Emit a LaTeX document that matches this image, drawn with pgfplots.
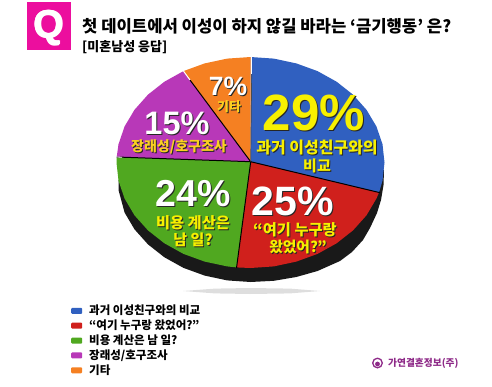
\documentclass[border=0pt]{standalone}
\usepackage{pgfplots}
\pgfplotsset{compat=1.18}
\usepackage{fontspec}
\setmainfont{Noto Sans CJK KR}
\newfontfamily\lat{Liberation Sans}
\definecolor{cblue}{HTML}{3060C0}
\definecolor{cred}{HTML}{D0201C}
\definecolor{cgreen}{HTML}{50A820}
\definecolor{cpurple}{HTML}{B838B8}
\definecolor{corange}{HTML}{F58022}
\definecolor{cpink}{HTML}{EC0E9E}
\definecolor{clogo}{HTML}{8E2A88}
\definecolor{cyel}{HTML}{F7F000}
\definecolor{cora}{HTML}{FBD020}
\newcommand{\lab}[5]{% x,y,size,colour,text
  \node[text=black!85,align=center,inner sep=0pt] at (axis cs:#1+1,#2+1) {\fontsize{#3}{#3}\selectfont\bfseries #5};
  \node[text=#4,align=center,inner sep=0pt] at (axis cs:#1,#2) {\fontsize{#3}{#3}\selectfont\bfseries #5};}
\newcommand{\qq}[2]{\node[text=white] at (axis cs:#1,#2) {\lat\fontsize{39}{39}\selectfont\bfseries Q};}
\begin{document}
\begin{tikzpicture}
\begin{axis}[
  width=492pt,height=386pt,scale only axis,
  xmin=0,xmax=492,ymin=0,ymax=386,y dir=reverse,
  hide axis,clip=false,
  legend style={draw=none,fill=none,at={(axis cs:69,301)},anchor=north west,
    font=\fontsize{11.5}{15}\selectfont\bfseries,row sep=-0.35pt,inner sep=2pt,
    nodes={inner xsep=7pt},
    /tikz/every even column/.append style={column sep=0pt}},
  legend cell align=left,
  legend image code/.code={\fill[#1,draw=none,rounded corners=1pt] (0pt,-3pt) rectangle (11pt,3pt);},
]
\path (axis cs:0,0) rectangle (axis cs:492,386);
% faint floor shadow
\addplot[fill=black!13,draw=none,forget plot] coordinates {(183,291)(215,288.6)(250,288)(290,288.6)(320,291)(290,293.4)(250,294)(215,293.4)(183,291)};
% pie rim
\addplot[fill=black!90,draw=none,forget plot] coordinates {
(384,170)(383.5,185)(381,200)(377,213)(370,228)(363,240)(352,252)(340,261)(317.5,271)(296.3,277)(273.8,280.8)(250.5,282)(227.2,280.4)(204.7,275.6)(183.5,267.9)(164.4,257.3)(147.9,244.3)(134.5,229.3)(124.6,212.6)(118.5,190)(118.5,180)(250,162)(384,170)};
% slices
\addplot[fill=cblue,draw=none] coordinates {
(250.7,161.7)(250.5,57)(273.8,58.6)(296.3,63.4)(317.5,71.1)(336.6,81.7)(353.1,94.7)(366.5,109.8)(376.4,126.4)(382.5,144.2)(384.5,162.5)(382.5,180.8)(379,192.5)(250.7,161.7)};
\addlegendentry{과거 이성친구와의 비교}
\addplot[fill=cred,draw=none] coordinates {
(250.7,161.7)(379,192.5)(376.4,198.6)(366.5,215.3)(353.1,230.3)(336.6,243.3)(317.5,253.9)(296.3,261.6)(273.8,266.4)(250.5,268)(236.5,267.4)(250.7,161.7)};
\addlegendentry{“여기 누구랑 왔었어?”}
\addplot[fill=cgreen,draw=none] coordinates {
(250.7,161.7)(236.5,267.4)(227.2,266.4)(204.7,261.6)(183.5,253.9)(164.4,243.3)(147.9,230.3)(134.5,215.3)(124.6,198.6)(118.5,180.8)(116.5,162.5)(116.7,157)(250.7,161.7)};
\addlegendentry{비용 계산은 남 일?}
\addplot[fill=cpurple,draw=none] coordinates {
(250.7,161.7)(116.7,157)(118.5,144.2)(124.6,126.4)(134.5,109.8)(147.9,94.7)(164.4,81.7)(183.5,71.1)(250.7,161.7)};
\addlegendentry{장래성/호구조사}
\addplot[fill=corange,draw=none] coordinates {
(250.7,161.7)(183.5,71.1)(204.7,63.4)(227.2,58.6)(250.5,57)(250.7,161.7)};
\addlegendentry{기타}
% divider lines
\addplot[black,line width=1pt,forget plot] coordinates {(380,192.7)(250.7,161.7)(236.5,268)};
\addplot[black,line width=1pt,forget plot] coordinates {(116.7,157)(250.7,161.7)(190,80)};
\addplot[black!70,line width=0.7pt,forget plot] coordinates {(250.7,161.7)(251.7,74)};
\addplot[white,line width=1pt,forget plot] coordinates {(183.5,71.1)(190,80)};
\addplot[white,line width=1.2pt,forget plot] coordinates {(251.7,56)(251.7,74)};
\addplot[white,line width=0.8pt,forget plot] coordinates {(115.5,157)(122,157.2)};
% header
\fill[cpink] (axis cs:27,2) rectangle (axis cs:71,50);
\qq{48.3}{28}\qq{49.7}{28}\qq{49}{27.3}\qq{49}{28.7}
\node[anchor=west,text=black,inner sep=0pt] at (axis cs:82,26) {\fontsize{16.65}{18}\selectfont\bfseries 첫 데이트에서 이성이 하지 않길 바라는 ‘금기행동’ 은?};
\node[anchor=west,text=black,inner sep=0pt] at (axis cs:82,47.5) {\fontsize{13}{14}\selectfont\bfseries [미혼남성 응답]};
% labels
\lab{314}{113}{51}{cyel}{\lat 29\%}
\lab{317}{148}{16}{cyel}{과거 이성친구와의}
\lab{317}{166}{15}{cyel}{비교}
\lab{293}{201}{41}{white}{\lat 25\%}
\lab{295}{230}{15.3}{cyel}{“여기 누구랑}
\lab{298}{247}{14.8}{cyel}{왔었어?”}
\lab{193}{194}{37.5}{white}{\lat 24\%}
\lab{193}{223}{15.3}{cyel}{비용 계산은}
\lab{193}{240}{15}{cyel}{남 일?}
\lab{177}{123}{32.5}{white}{\lat 15\%}
\lab{179}{147}{14}{cora}{장래성/호구조사}
\lab{228}{86}{26.5}{white}{\lat 7\%}
\lab{229}{107}{13}{cora}{기타}
% logo
\draw[clogo,line width=1.3pt] (axis cs:377.5,363) circle[radius=4.8pt];
\fill[clogo] (axis cs:377.5,364) circle[radius=2.4pt];
\node[anchor=west,text=clogo,inner sep=0pt] at (axis cs:388,363.5) {\fontsize{9.7}{10}\selectfont\bfseries 가연결혼정보(주)};
\end{axis}
\end{tikzpicture}
\end{document}
